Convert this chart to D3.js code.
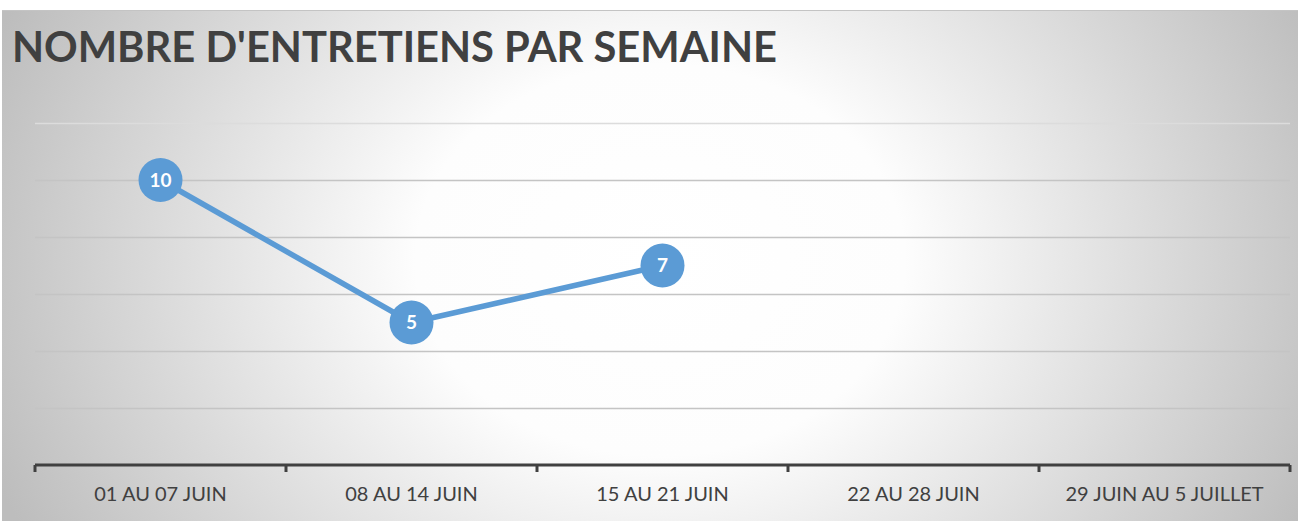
<!DOCTYPE html>
<html>
<head>
<meta charset="utf-8">
<style>
  body { margin: 0; background: #fff; }
  svg { display: block; }
</style>
</head>
<body>
<svg id="chart"></svg>
<script src="https://d3js.org/d3.v7.min.js"></script>
<script>
// dimensions de la page
var width = 1298;
var height = 521;
var padding = { top: 123, right: 8, bottom: 56, left: 35 };

// données
var semaines = ['01 AU 07 JUIN', '08 AU 14 JUIN', '15 AU 21 JUIN', '22 AU 28 JUIN', '29 JUIN AU 5 JUILLET'];
var entretiens = [10, 5, 7];
var yTicks = [0, 2, 4, 6, 8, 10, 12];
var titre = "NOMBRE D'ENTRETIENS PAR SEMAINE";

var svg = d3.select('#chart')
  .attr('width', width)
  .attr('height', height);

// fond dégradé radial (un peu elliptique)
var defs = svg.append('defs');
var grad = defs.append('radialGradient')
  .attr('id', 'bg')
  .attr('gradientUnits', 'userSpaceOnUse')
  .attr('cx', 660).attr('cy', 260).attr('r', 720)
  .attr('gradientTransform', 'translate(660,260) scale(1,0.8) translate(-660,-260)');
grad.append('stop').attr('offset', '0%').attr('stop-color', '#ffffff');
grad.append('stop').attr('offset', '34%').attr('stop-color', '#fdfdfd');
grad.append('stop').attr('offset', '100%').attr('stop-color', '#bdbdbd');

svg.append('rect')
  .attr('x', 2).attr('y', 10)
  .attr('width', width - 2).attr('height', height - 10)
  .attr('fill', 'url(#bg)');
svg.append('line')
  .attr('x1', 2).attr('x2', width)
  .attr('y1', 10.5).attr('y2', 10.5)
  .attr('stroke', '#c4c4c4').attr('stroke-width', 1);

// titre
svg.append('text')
  .attr('x', 12).attr('y', 62)
  .attr('font-family', 'Lato, "Open Sans", sans-serif')
  .attr('font-weight', 'bold')
  .attr('font-size', 42)
  .attr('fill', '#404040')
  .attr('textLength', 765)
  .attr('lengthAdjust', 'spacingAndGlyphs')
  .text(titre);

var xScale = d3.scaleBand()
  .domain(semaines)
  .range([padding.left, width - padding.right]);

var yScale = d3.scaleLinear()
  .domain([0, 10])
  .range([height - padding.bottom, 180]);

// lignes de quadrillage
svg.append('g')
  .selectAll('line')
  .data(yTicks.filter(function(d) { return d > 0; }))
  .enter()
  .append('line')
  .attr('x1', padding.left).attr('x2', width - padding.right)
  .attr('y1', function(d) { return Math.round(yScale(d)) + 0.5; })
  .attr('y2', function(d) { return Math.round(yScale(d)) + 0.5; })
  .attr('stroke', function(d) { return d === 12 ? '#dcdcdc' : '#c4c4c4'; })
  .attr('stroke-width', 1.5);

// axe x
var xAxis = d3.axisBottom(xScale).tickSize(0).tickPadding(22);
var gx = svg.append('g')
  .attr('transform', 'translate(0,' + yScale(0) + ')')
  .call(xAxis);
gx.select('.domain').remove();
gx.attr('font-family', 'Lato, sans-serif').attr('font-size', 20);
gx.selectAll('text')
  .attr('fill', '#404040');

svg.append('line')
  .attr('x1', padding.left).attr('x2', width - padding.right)
  .attr('y1', yScale(0)).attr('y2', yScale(0))
  .attr('stroke', '#404040').attr('stroke-width', 3);

var bornes = semaines.map(function(s) { return xScale(s); }).concat([width - padding.right]);
svg.append('g')
  .selectAll('line')
  .data(bornes)
  .enter()
  .append('line')
  .attr('x1', function(d) { return d; }).attr('x2', function(d) { return d; })
  .attr('y1', yScale(0)).attr('y2', yScale(0) + 7)
  .attr('stroke', '#404040').attr('stroke-width', 3);

// courbe
var points = entretiens.map(function(v, i) { return [semaines[i], v]; });
var linePath = d3.line()
  .x(function(d) { return xScale(d[0]) + xScale.bandwidth() / 2; })
  .y(function(d) { return yScale(d[1]); });

svg.append('path')
  .attr('d', linePath(points))
  .attr('fill', 'none')
  .attr('stroke', '#5b9bd5')
  .attr('stroke-width', 5.5)
  .attr('stroke-linejoin', 'round');

var pts = svg.append('g')
  .selectAll('g')
  .data(points)
  .enter()
  .append('g')
  .attr('transform', function(d) {
    return 'translate(' + (xScale(d[0]) + xScale.bandwidth() / 2) + ',' + yScale(d[1]) + ')';
  });

pts.append('circle')
  .attr('r', 22)
  .attr('fill', '#5b9bd5');

pts.append('text')
  .attr('text-anchor', 'middle')
  .attr('dy', '0.36em')
  .attr('font-family', 'Lato, "Open Sans", sans-serif')
  .attr('font-weight', 'bold')
  .attr('font-size', 19)
  .attr('fill', '#ffffff')
  .text(function(d) { return d[1]; });
</script>
</body>
</html>
